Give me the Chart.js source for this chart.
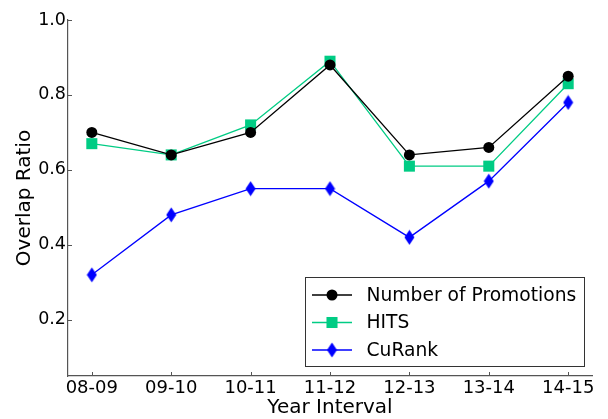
<!DOCTYPE html>
<html>
<head>
<meta charset="utf-8">
<script src="https://cdn.jsdelivr.net/npm/chart.js@4"></script>
<style>
  html, body { margin: 0; padding: 0; background: #fff; }
  #wrap { width: 608px; height: 419px; }
</style>
</head>
<body>
<div id="wrap"><canvas id="chart" width="608" height="419"></canvas></div>
<script>
// data
const intervals = ['08-09', '09-10', '10-11', '11-12', '12-13', '13-14', '14-15'];
const promotions = [0.70, 0.64, 0.70, 0.88, 0.64, 0.66, 0.85];
const hits = [0.67, 0.64, 0.72, 0.89, 0.61, 0.61, 0.83];
const curank = [0.32, 0.48, 0.55, 0.55, 0.42, 0.57, 0.78];
const yTicks = [0.2, 0.4, 0.6, 0.8, 1.0];

const FONT = 'DejaVu Sans';
const GREEN = '#00cc84';

// thin diamond marker (matplotlib 'd')
function thinDiamond(color) {
    const c = document.createElement('canvas');
    c.width = 11; c.height = 16;
    const g = c.getContext('2d');
    g.fillStyle = color;
    g.beginPath();
    g.moveTo(5.5, 0.5);
    g.lineTo(10.5, 8);
    g.lineTo(5.5, 15.5);
    g.lineTo(0.5, 8);
    g.closePath();
    g.fill();
    return c;
}
const diamond = thinDiamond('#0000ff');

const pts = arr => arr.map((v, i) => ({ x: i, y: v }));

// inward tick marks like old matplotlib
const inTicks = {
    id: 'inTicks',
    afterDatasetsDraw(chart) {
        const { ctx, chartArea: a, scales: { x, y } } = chart;
        ctx.save();
        ctx.strokeStyle = '#555';
        ctx.lineWidth = 1;
        ctx.beginPath();
        intervals.forEach((_, i) => {
            const px = Math.round(x.getPixelForValue(i)) + 0.5;
            ctx.moveTo(px, a.bottom);
            ctx.lineTo(px, a.bottom - 4);
        });
        yTicks.forEach(v => {
            const py = Math.round(y.getPixelForValue(v)) + 0.5;
            ctx.moveTo(a.left, py);
            ctx.lineTo(a.left + 4, py);
        });
        ctx.stroke();
        ctx.restore();
    }
};

// boxed legend in the lower right corner
const boxLegend = {
    id: 'boxLegend',
    afterDraw(chart) {
        const { ctx } = chart;
        const x0 = 305.5, y0 = 277.5, w = 279, h = 89;
        ctx.save();
        ctx.fillStyle = '#fff';
        ctx.fillRect(x0, y0, w, h);
        ctx.strokeStyle = '#333';
        ctx.lineWidth = 1;
        ctx.strokeRect(x0, y0, w, h);
        ctx.font = '18.7px "' + FONT + '"';
        ctx.textBaseline = 'middle';
        chart.data.datasets.forEach((ds, i) => {
            const cy = 295 + i * 27.5;
            ctx.strokeStyle = ds.borderColor;
            ctx.lineWidth = ds.borderWidth;
            ctx.beginPath();
            ctx.moveTo(312, cy);
            ctx.lineTo(352, cy);
            ctx.stroke();
            ctx.fillStyle = ds.pointBackgroundColor;
            if (ds.pointStyle === 'circle') {
                ctx.beginPath();
                ctx.arc(332, cy, ds.pointRadius, 0, Math.PI * 2);
                ctx.fill();
            } else if (ds.pointStyle === 'rect') {
                const r = ds.pointRadius * Math.SQRT1_2;
                ctx.fillRect(332 - r, cy - r, 2 * r, 2 * r);
            } else {
                ctx.drawImage(ds.pointStyle, 332 - 5.5, cy - 8);
            }
            ctx.fillStyle = '#000';
            ctx.fillText(ds.label, 366.5, cy + 1);
        });
        ctx.restore();
    }
};

new Chart(document.getElementById('chart'), {
    type: 'line',
    data: {
        datasets: [
            {
                label: 'Number of Promotions',
                data: pts(promotions),
                borderColor: '#000',
                borderWidth: 1.3,
                pointStyle: 'circle',
                pointRadius: 5.5,
                pointBackgroundColor: '#000',
                pointBorderWidth: 0,
            },
            {
                label: 'HITS',
                data: pts(hits),
                borderColor: GREEN,
                borderWidth: 1.3,
                pointStyle: 'rect',
                pointRadius: 7.8,
                pointBackgroundColor: GREEN,
                pointBorderWidth: 0,
            },
            {
                label: 'CuRank',
                data: pts(curank),
                borderColor: '#0000ff',
                borderWidth: 1.3,
                pointStyle: diamond,
                pointRadius: 7,
                pointBackgroundColor: '#0000ff',
                pointBorderWidth: 0,
            },
        ],
    },
    options: {
        responsive: false,
        animation: false,
        layout: { padding: { top: 20, right: 16, left: 0, bottom: 0 } },
        plugins: { legend: { display: false }, tooltip: { enabled: false } },
        elements: { line: { tension: 0 } },
        scales: {
            x: {
                type: 'linear',
                min: -0.3,
                max: 6.3,
                afterBuildTicks: s => { s.ticks = intervals.map((_, i) => ({ value: i })); },
                afterFit: s => { s.height = 43; },
                grid: { display: false, drawTicks: false },
                border: { color: '#555', width: 1.2 },
                ticks: {
                    color: '#000',
                    padding: 2,
                    maxRotation: 0,
                    autoSkip: false,
                    font: { family: FONT, size: 18 },
                    callback: v => intervals[v],
                },
                title: {
                    display: true,
                    text: 'Year Interval',
                    color: '#000',
                    font: { family: FONT, size: 20, lineHeight: 1 },
                    padding: { top: 0, bottom: 1 },
                },
            },
            y: {
                min: 0.05,
                max: 1.0,
                afterBuildTicks: s => { s.ticks = yTicks.map(v => ({ value: v })); },
                afterFit: s => { s.width = 68; },
                grid: { display: false, drawTicks: false },
                border: { color: '#555', width: 1.2 },
                ticks: {
                    color: '#000',
                    padding: 2,
                    font: { family: FONT, size: 17.5 },
                    callback: v => v.toFixed(1),
                },
                title: {
                    display: true,
                    text: 'Overlap Ratio',
                    color: '#000',
                    font: { family: FONT, size: 20, lineHeight: 1.2 },
                    padding: { top: 12.5, bottom: 0 },
                },
            },
        },
    },
    plugins: [inTicks, boxLegend],
});
</script>
</body>
</html>
